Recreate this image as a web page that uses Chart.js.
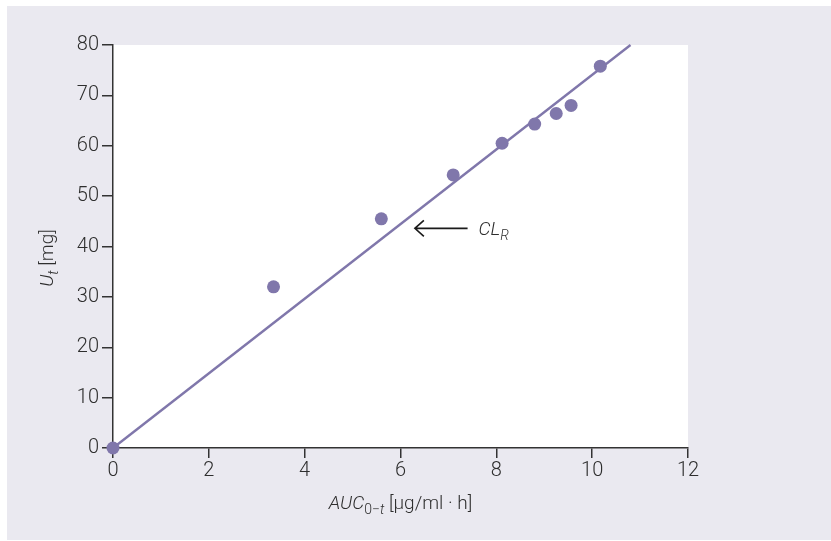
<!DOCTYPE html>
<html>
<head>
<meta charset="utf-8">
<script src="https://cdn.jsdelivr.net/npm/chart.js@4/dist/chart.umd.min.js"></script>
<style>
  html, body { margin: 0; padding: 0; background: #ffffff; }
  #wrap { position: relative; width: 831px; height: 541px; }
  canvas { display: block; }
</style>
</head>
<body>
<div id="wrap"><canvas id="c" width="831" height="541"></canvas></div>
<script>
// ---- data ----
const aucValues = [0, 3.35, 5.6, 7.1, 8.12, 8.8, 9.25, 9.56, 10.17];   // AUC0-t [µg/ml·h]
const utValues  = [0, 32, 45.5, 54.2, 60.5, 64.3, 66.4, 68.0, 75.8];  // Ut [mg]
const fitX = [0, 10.8];
const fitY = [0, 80];
const xTicks = [0, 2, 4, 6, 8, 10, 12];
const yTicks = [0, 10, 20, 30, 40, 50, 60, 70, 80];
const arrowFrom = { x: 7.4, y: 43.6 };
const arrowTo   = { x: 6.3, y: 43.6 };
const arrowLabel = { main: 'CL', sub: 'R' };

const PURPLE = '#8077ab';
const TEXT = '#2e2e2e';
const FONT = "'Roboto', 'Open Sans', sans-serif";
const W = '300';

function drawRuns(ctx, runs, x, y, align) {
  let total = 0;
  runs.forEach(r => { ctx.font = (r.italic ? 'italic ' : '') + W + ' ' + r.size + 'px ' + FONT; r.w = ctx.measureText(r.t).width; total += r.w; });
  let cx = align === 'center' ? x - total / 2 : x;
  runs.forEach(r => {
    ctx.font = (r.italic ? 'italic ' : '') + W + ' ' + r.size + 'px ' + FONT;
    ctx.fillText(r.t, cx, y + (r.dy || 0));
    cx += r.w;
  });
}

const decorPlugin = {
  id: 'decor',
  beforeDraw(chart) {
    const ctx = chart.ctx, a = chart.chartArea;
    ctx.save();
    ctx.fillStyle = '#ffffff';
    ctx.fillRect(0, 0, chart.width, chart.height);
    ctx.fillStyle = '#eae9f0';
    ctx.fillRect(7, 6, chart.width - 7, chart.height - 7);
    ctx.fillStyle = '#ffffff';
    ctx.fillRect(a.left, a.top, a.right - a.left, a.bottom - a.top);
    ctx.restore();
  },
  afterDraw(chart) {
    const ctx = chart.ctx, xs = chart.scales.x, ys = chart.scales.y;
    ctx.save();
    ctx.fillStyle = TEXT;
    ctx.textBaseline = 'alphabetic';
    ctx.textAlign = 'left';
    drawRuns(ctx, [
      { t: 'AUC', size: 19, italic: true },
      { t: '0\u2212', size: 14, italic: false, dy: 5 },
      { t: 't', size: 14, italic: true, dy: 5 },
      { t: ' [\u00b5g/ml \u00b7 h]', size: 19, italic: false }
    ], (xs.left + xs.right) / 2, 509, 'center');
    ctx.save();
    ctx.translate(53, 258);
    ctx.rotate(-Math.PI / 2);
    drawRuns(ctx, [
      { t: 'U', size: 19, italic: true },
      { t: 't', size: 14, italic: true, dy: 5 },
      { t: ' [mg]', size: 19, italic: false }
    ], 0, 0, 'center');
    ctx.restore();
    const x1 = xs.getPixelForValue(arrowFrom.x), x2 = xs.getPixelForValue(arrowTo.x);
    const y1 = ys.getPixelForValue(arrowFrom.y);
    ctx.strokeStyle = '#1a1a1a';
    ctx.lineWidth = 1.6;
    ctx.beginPath();
    ctx.moveTo(x1, y1); ctx.lineTo(x2, y1);
    ctx.moveTo(x2 + 9, y1 - 8); ctx.lineTo(x2, y1); ctx.lineTo(x2 + 9, y1 + 8);
    ctx.stroke();
    drawRuns(ctx, [
      { t: arrowLabel.main, size: 19, italic: true },
      { t: arrowLabel.sub, size: 14, italic: true, dy: 5 }
    ], x1 + 11, y1 + 7, 'left');
    ctx.restore();
  }
};

new Chart(document.getElementById('c'), {
  type: 'scatter',
  data: {
    datasets: [
      {
        label: 'Ut',
        data: aucValues.map((v, i) => ({ x: v, y: utValues[i] })),
        backgroundColor: PURPLE,
        borderColor: PURPLE,
        pointRadius: 6.5,
        pointBorderWidth: 0,
        clip: false,
        order: 0
      },
      {
        type: 'line',
        label: 'fit',
        data: fitX.map((v, i) => ({ x: v, y: fitY[i] })),
        borderColor: PURPLE,
        borderWidth: 2.4,
        pointRadius: 0,
        fill: false,
        clip: false,
        order: 1
      }
    ]
  },
  options: {
    responsive: false,
    animation: false,
    devicePixelRatio: 1,
    layout: { padding: { left: 0, top: 45, right: 143, bottom: 0 } },
    plugins: { legend: { display: false }, tooltip: { enabled: false } },
    scales: {
      x: {
        type: 'linear', min: 0, max: 12,
        afterBuildTicks: s => { s.ticks = xTicks.map(v => ({ value: v })); },
        afterFit: s => { s.height = 93; },
        grid: { drawOnChartArea: false, drawTicks: true, tickLength: 10, color: '#333', lineWidth: 1.5 },
        border: { display: true, color: '#333', width: 1.5 },
        ticks: { color: TEXT, font: { family: FONT, size: 20, weight: W }, padding: 1 }
      },
      y: {
        type: 'linear', min: 0, max: 80,
        afterBuildTicks: s => { s.ticks = yTicks.map(v => ({ value: v })); },
        afterFit: s => { s.width = 113; },
        grid: { drawOnChartArea: false, drawTicks: true, tickLength: 11, color: '#333', lineWidth: 1.5 },
        border: { display: true, color: '#333', width: 1.5 },
        ticks: { color: TEXT, font: { family: FONT, size: 20, weight: W }, padding: 3 }
      }
    }
  },
  plugins: [decorPlugin]
});
</script>
</body>
</html>
